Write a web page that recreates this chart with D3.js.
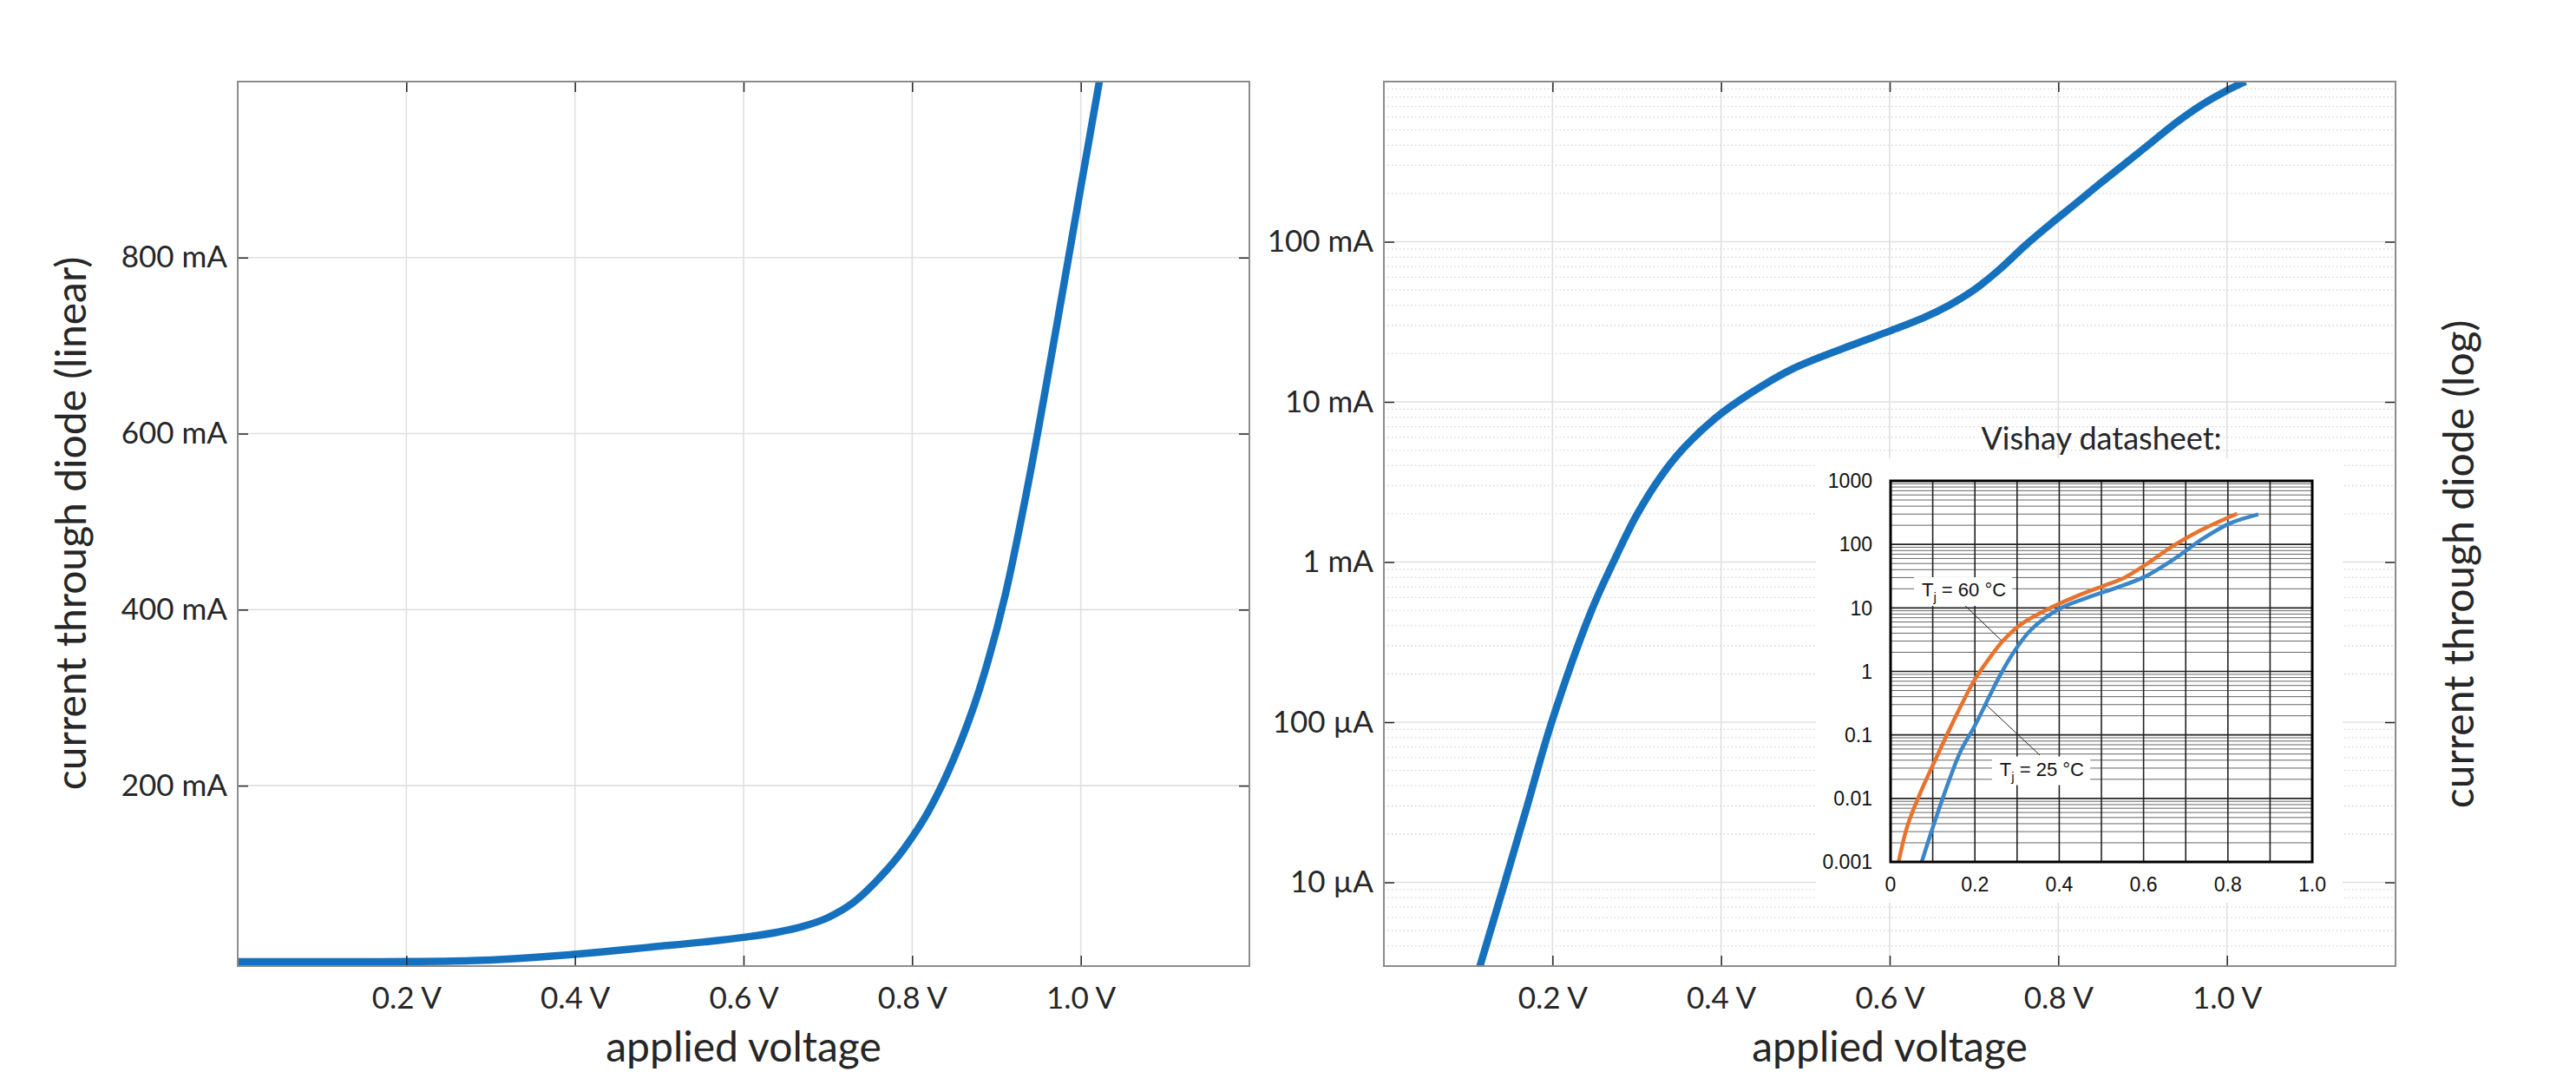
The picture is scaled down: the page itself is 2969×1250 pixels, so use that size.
<!DOCTYPE html>
<html>
<head>
<meta charset="utf-8">
<script src="https://cdn.jsdelivr.net/npm/d3@7"></script>
<style>
  html, body { margin: 0; padding: 0; background: #fff; }
  svg text { font-family: Lato, "Noto Sans", sans-serif; font-weight: 400; fill: #262626; }
  svg .inset text { font-family: "Liberation Sans", Arial, sans-serif; font-weight: 400; fill: #111; }
</style>
</head>
<body>
<svg id="chart" width="2969" height="1250"></svg>
<script>
// simulated diode curve: applied voltage (V) and current (A)
const voltage = [0.00, 0.05, 0.114, 0.1435, 0.170, 0.199, 0.245, 0.276, 0.300, 0.328,
                 0.355, 0.393, 0.431, 0.485, 0.554, 0.600, 0.640, 0.670, 0.700, 0.730,
                 0.760, 0.790, 0.820, 0.850, 0.880, 0.910, 0.940, 0.970, 1.000, 1.022];
const current = [2e-8, 2e-7, 3.0e-6, 1.0e-5, 3.0e-5, 1.0e-4, 4.8e-4, 1.1e-3, 1.97e-3, 3.39e-3,
                 5.1e-3, 7.9e-3, 1.10e-2, 1.61e-2, 2.25e-2, 2.77e-2, 3.35e-2, 4.0e-2, 5.0e-2, 6.7e-2,
                 0.094, 0.128, 0.172, 0.232, 0.310, 0.415, 0.555, 0.715, 0.880, 1.000];

const voltTicks = [0.2, 0.4, 0.6, 0.8, 1.0];
const voltLabels = ["0.2 V", "0.4 V", "0.6 V", "0.8 V", "1.0 V"];
const linTicks = [200, 400, 600, 800];            // mA
const linLabels = ["200 mA", "400 mA", "600 mA", "800 mA"];
const logTicks = [1e-5, 1e-4, 1e-3, 1e-2, 1e-1];  // A
const logLabels = ["10 µA", "100 µA", "1 mA", "10 mA", "100 mA"];

// Vishay datasheet inset: voltage (V) and current (mA)
const vishayV60 = [0.019, 0.040, 0.070, 0.099, 0.133, 0.166, 0.200, 0.234, 0.267, 0.309,
                   0.368, 0.435, 0.503, 0.553, 0.603, 0.670, 0.738, 0.822];
const vishayI60 = [0.001, 0.0037, 0.012, 0.032, 0.098, 0.28, 0.75, 1.6, 3.05, 5.5,
                   9.2, 14.7, 22, 29.5, 47, 95, 170, 305];
const vishayV25 = [0.074, 0.099, 0.133, 0.166, 0.200, 0.234, 0.259, 0.292, 0.334, 0.402,
                   0.469, 0.536, 0.603, 0.679, 0.738, 0.805, 0.872];
const vishayI25 = [0.001, 0.0033, 0.015, 0.055, 0.14, 0.40, 0.85, 2.0, 4.6, 9.8,
                   14.7, 20.8, 31, 63, 120, 215, 297];
const insetYTicks = [0.001, 0.01, 0.1, 1, 10, 100, 1000];
const insetYLabels = ["0.001", "0.01", "0.1", "1", "10", "100", "1000"];
const insetXTicks = [0, 0.2, 0.4, 0.6, 0.8, 1.0];
const insetXLabels = ["0", "0.2", "0.4", "0.6", "0.8", "1.0"];

const svg = d3.select("#chart");
const blue = "#1571be";

const leftBox = { x0: 274, x1: 1440, y0: 94, y1: 1113 };
const rightBox = { x0: 1595, x1: 2761, y0: 94, y1: 1113 };

const xLeft = d3.scaleLinear().domain([0, 1.2]).range([leftBox.x0, leftBox.x1]);
const yLin = d3.scaleLinear().domain([-5, 1000]).range([leftBox.y1, leftBox.y0]);
const xRight = d3.scaleLinear().domain([0, 1.2]).range([rightBox.x0, rightBox.x1]);
const yLog = d3.scaleLog().domain([3e-6, 1]).range([rightBox.y1, rightBox.y0]);

const defs = svg.append("defs");
[["clipL", leftBox], ["clipR", rightBox]].forEach(([id, b]) => {
  defs.append("clipPath").attr("id", id).append("rect")
    .attr("x", b.x0).attr("y", b.y0).attr("width", b.x1 - b.x0).attr("height", b.y1 - b.y0);
});

function vGrid(x, box, values) {
  svg.append("g").selectAll("line").data(values).enter().append("line")
    .attr("x1", d => x(d)).attr("x2", d => x(d))
    .attr("y1", box.y0).attr("y2", box.y1)
    .attr("stroke", "#e0e0e0").attr("stroke-width", 1.6);
}
function hGrid(y, box, values, dotted) {
  svg.append("g").selectAll("line").data(values).enter().append("line")
    .attr("x1", box.x0).attr("x2", box.x1)
    .attr("y1", d => y(d)).attr("y2", d => y(d))
    .attr("stroke", dotted ? "#d4d4d4" : "#e0e0e0")
    .attr("stroke-width", dotted ? 1.3 : 1.6)
    .attr("stroke-dasharray", dotted ? "1.5,3" : null);
}

function styleAxis(g) {
  g.attr("font-size", null).attr("font-family", null);
  g.select(".domain").remove();
  g.selectAll(".tick line").attr("stroke", "#262626").attr("stroke-width", 1.5);
  g.selectAll("text").attr("font-size", 35).attr("fill", "#262626");
}

function frame(x, y, box, yTicks, yLabels) {
  svg.append("g").attr("transform", `translate(0,${box.y1})`)
    .call(d3.axisBottom(x).tickValues(voltTicks).tickFormat((d, i) => voltLabels[i])
      .tickSize(-12).tickPadding(24))
    .call(styleAxis);
  svg.append("g").attr("transform", `translate(0,${box.y0})`)
    .call(d3.axisTop(x).tickValues(voltTicks).tickFormat("").tickSize(-12))
    .call(styleAxis);
  svg.append("g").attr("transform", `translate(${box.x0},0)`)
    .call(d3.axisLeft(y).tickValues(yTicks).tickFormat((d, i) => yLabels[i])
      .tickSize(-12).tickPadding(12))
    .call(styleAxis);
  svg.append("g").attr("transform", `translate(${box.x1},0)`)
    .call(d3.axisRight(y).tickValues(yTicks).tickFormat("").tickSize(-12))
    .call(styleAxis);
  svg.append("rect")
    .attr("x", box.x0).attr("y", box.y0)
    .attr("width", box.x1 - box.x0).attr("height", box.y1 - box.y0)
    .attr("fill", "none").attr("stroke", "#8c8c8c").attr("stroke-width", 2);
}

const pts = voltage.map((v, i) => ({ v: v, i: current[i] }));

// ---- left: linear current ----
vGrid(xLeft, leftBox, voltTicks);
hGrid(yLin, leftBox, linTicks, false);
svg.append("path")
  .datum(pts)
  .attr("clip-path", "url(#clipL)")
  .attr("fill", "none").attr("stroke", blue).attr("stroke-width", 8.5)
  .attr("stroke-linejoin", "round")
  .attr("d", d3.line().x(d => xLeft(d.v)).y(d => yLin(d.i * 1000)).curve(d3.curveMonotoneX));

// ---- right: log current ----
const minorLog = [];
for (let e = -6; e <= 0; e++) {
  for (let m = 2; m <= 9; m++) {
    const v = m * Math.pow(10, e);
    if (v > 3e-6 && v < 1) minorLog.push(v);
  }
}
hGrid(yLog, rightBox, minorLog, true);
vGrid(xRight, rightBox, voltTicks);
hGrid(yLog, rightBox, logTicks, false);
svg.append("path")
  .datum(pts)
  .attr("clip-path", "url(#clipR)")
  .attr("fill", "none").attr("stroke", blue).attr("stroke-width", 8.5)
  .attr("stroke-linejoin", "round")
  .attr("d", d3.line().x(d => xRight(d.v)).y(d => yLog(d.i)).curve(d3.curveCatmullRom.alpha(0.5)));

// ---- inset with the datasheet curves ----
const inset = svg.append("g").attr("class", "inset");
inset.append("rect").attr("x", 2093).attr("y", 528).attr("width", 607).attr("height", 512)
  .attr("fill", "#fff");

const ix = d3.scaleLinear().domain([0, 1]).range([2179, 2665]);
const iy = d3.scaleLog().domain([0.001, 1000]).range([993, 554]);

const insetMinor = [];
for (let e = -3; e <= 2; e++) {
  for (let m = 2; m <= 9; m++) insetMinor.push(m * Math.pow(10, e));
}
inset.append("g").selectAll("line").data(insetMinor).enter().append("line")
  .attr("x1", ix(0)).attr("x2", ix(1))
  .attr("y1", d => iy(d)).attr("y2", d => iy(d))
  .attr("stroke", "#666").attr("stroke-width", 1);
inset.append("g").selectAll("line").data(insetYTicks).enter().append("line")
  .attr("x1", ix(0)).attr("x2", ix(1))
  .attr("y1", d => iy(d)).attr("y2", d => iy(d))
  .attr("stroke", "#222").attr("stroke-width", 1.6);
inset.append("g").selectAll("line").data(d3.range(1, 10).map(k => k / 10)).enter().append("line")
  .attr("x1", d => ix(d)).attr("x2", d => ix(d))
  .attr("y1", iy(1000)).attr("y2", iy(0.001))
  .attr("stroke", "#222").attr("stroke-width", 1.6);

const iline = d3.line().x(d => ix(d[0])).y(d => iy(d[1])).curve(d3.curveCatmullRom.alpha(0.5));
inset.append("path").datum(vishayV25.map((v, i) => [v, vishayI25[i]]))
  .attr("fill", "none").attr("stroke", "#3a86c8").attr("stroke-width", 4.5).attr("d", iline);
inset.append("path").datum(vishayV60.map((v, i) => [v, vishayI60[i]]))
  .attr("fill", "none").attr("stroke", "#e8732f").attr("stroke-width", 4.5).attr("d", iline);

// annotations: label anchor and leader line, in datasheet coordinates
const notes = [
  { temp: "60", at: [0.074, 15.2], from: [0.177, 10.8], to: [0.263, 3.06] },
  { temp: "25", at: [0.259, 0.0229], from: [0.354, 0.048], to: [0.226, 0.30] }
];
notes.forEach(n => {
  inset.append("line")
    .attr("x1", ix(n.from[0])).attr("y1", iy(n.from[1]))
    .attr("x2", ix(n.to[0])).attr("y2", iy(n.to[1]))
    .attr("stroke", "#222").attr("stroke-width", 1);
  const bg = inset.append("rect").attr("fill", "#fff");
  const t = inset.append("text")
    .attr("x", ix(n.at[0])).attr("y", iy(n.at[1]))
    .attr("font-size", 22);
  t.append("tspan").text("T");
  t.append("tspan").attr("font-size", 15).attr("dy", 6).text("j");
  t.append("tspan").attr("dy", -6).text(" = " + n.temp + " °C");
  const bb = t.node().getBBox();
  bg.attr("x", bb.x - 9).attr("y", bb.y - 2)
    .attr("width", bb.width + 16).attr("height", bb.height + 4);
});

inset.append("rect")
  .attr("x", ix(0)).attr("y", iy(1000))
  .attr("width", ix(1) - ix(0)).attr("height", iy(0.001) - iy(1000))
  .attr("fill", "none").attr("stroke", "#000").attr("stroke-width", 3);

inset.append("g").selectAll("text").data(insetYTicks).enter().append("text")
  .attr("x", ix(0) - 21).attr("y", d => iy(d)).attr("dy", "0.36em")
  .attr("text-anchor", "end").attr("font-size", 23)
  .text((d, i) => insetYLabels[i]);
inset.append("g").selectAll("text").data(insetXTicks).enter().append("text")
  .attr("x", d => ix(d)).attr("y", 1027)
  .attr("text-anchor", "middle").attr("font-size", 23)
  .text((d, i) => insetXLabels[i]);

svg.append("text").attr("x", 2422).attr("y", 518)
  .attr("text-anchor", "middle").attr("font-size", 36)
  .text("Vishay datasheet:");

// ---- frames and labels ----
frame(xLeft, yLin, leftBox, linTicks, linLabels);
frame(xRight, yLog, rightBox, logTicks, logLabels);

svg.append("text").attr("x", (leftBox.x0 + leftBox.x1) / 2).attr("y", 1223)
  .attr("text-anchor", "middle").attr("font-size", 48).text("applied voltage");
svg.append("text").attr("x", (rightBox.x0 + rightBox.x1) / 2).attr("y", 1223)
  .attr("text-anchor", "middle").attr("font-size", 48).text("applied voltage");
svg.append("text").attr("transform", "translate(99,603) rotate(-90)")
  .attr("text-anchor", "middle").attr("font-size", 48)
  .text("current through diode (linear)");
svg.append("text").attr("transform", "translate(2851,650) rotate(-90)")
  .attr("text-anchor", "middle").attr("font-size", 48)
  .text("current through diode (log)");
</script>
</body>
</html>
